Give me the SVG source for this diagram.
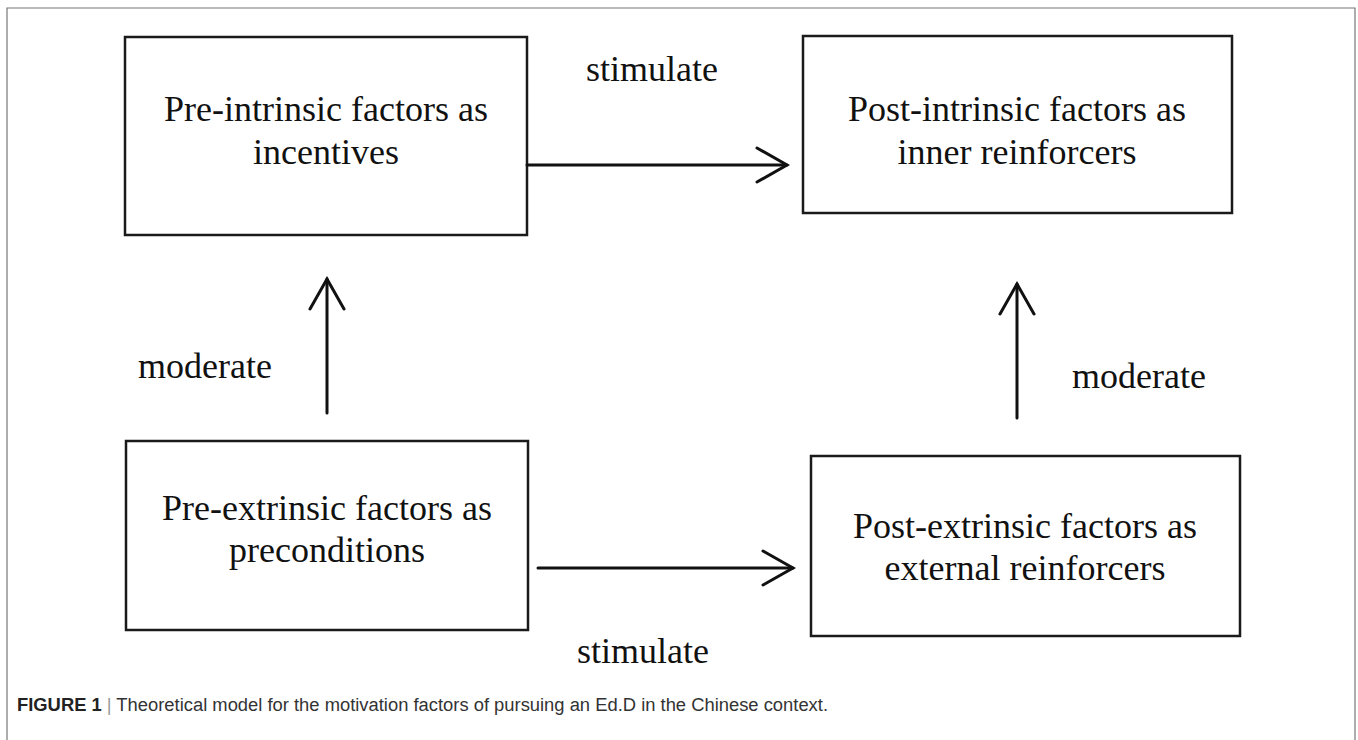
<svg xmlns="http://www.w3.org/2000/svg" width="1358" height="740" viewBox="0 0 1358 740">
<defs>
<style>
.box{fill:#fff;stroke:#1a1a1a;stroke-width:2.5}
.nt{font-family:"Liberation Serif","Times New Roman",serif;font-size:36px;fill:#111;text-anchor:middle}
.lbl{font-family:"Liberation Serif","Times New Roman",serif;font-size:36px;fill:#111}
.con{stroke:#111;stroke-width:3;fill:none;stroke-linecap:round}
.cap{font-family:"Liberation Sans",Arial,sans-serif;font-size:18px;fill:#333}
</style>
<marker id="arr" markerUnits="userSpaceOnUse" viewBox="-33 -20 36 40" markerWidth="36" markerHeight="40" refX="0" refY="0" orient="auto">
<path d="M-30,-17 L0,0 L-30,17" fill="none" stroke="#111" stroke-width="3" stroke-linecap="round" stroke-linejoin="miter"/>
</marker>
</defs>
<rect width="1358" height="740" fill="#fff"/>
<path d="M7,740 V8 H1355 V740" fill="none" stroke="#777" stroke-width="1.2"/>
<g id="pre-intrinsic">
<rect class="box" x="125" y="37" width="402" height="198"/>
<text class="nt" x="326" y="121">Pre-intrinsic factors as</text>
<text class="nt" x="326" y="164">incentives</text>
</g>
<g id="post-intrinsic">
<rect class="box" x="803" y="36" width="429" height="177"/>
<text class="nt" x="1017" y="121">Post-intrinsic factors as</text>
<text class="nt" x="1017" y="164">inner reinforcers</text>
</g>
<g id="pre-extrinsic">
<rect class="box" x="126" y="441" width="402" height="189"/>
<text class="nt" x="327" y="520">Pre-extrinsic factors as</text>
<text class="nt" x="327" y="562">preconditions</text>
</g>
<g id="post-extrinsic">
<rect class="box" x="811" y="456" width="429" height="180"/>
<text class="nt" x="1025" y="538">Post-extrinsic factors as</text>
<text class="nt" x="1025" y="580">external reinforcers</text>
</g>
<g id="connectors">
<line class="con" x1="527" y1="165" x2="787" y2="165" marker-end="url(#arr)"/>
<line class="con" x1="327" y1="413" x2="327" y2="279" marker-end="url(#arr)"/>
<line class="con" x1="1017" y1="418" x2="1017" y2="284" marker-end="url(#arr)"/>
<line class="con" x1="538" y1="568" x2="793" y2="568" marker-end="url(#arr)"/>
<text class="lbl" x="586" y="81">stimulate</text>
<text class="lbl" x="138" y="378">moderate</text>
<text class="lbl" x="1072" y="388">moderate</text>
<text class="lbl" x="577" y="663">stimulate</text>
</g>
<g id="caption">
<text class="cap" x="17" y="711" textLength="811" lengthAdjust="spacingAndGlyphs"><tspan font-weight="bold" fill="#222">FIGURE 1</tspan><tspan fill="#999"> | </tspan><tspan>Theoretical model for the motivation factors of pursuing an Ed.D in the Chinese context.</tspan></text>
</g>
</svg>
